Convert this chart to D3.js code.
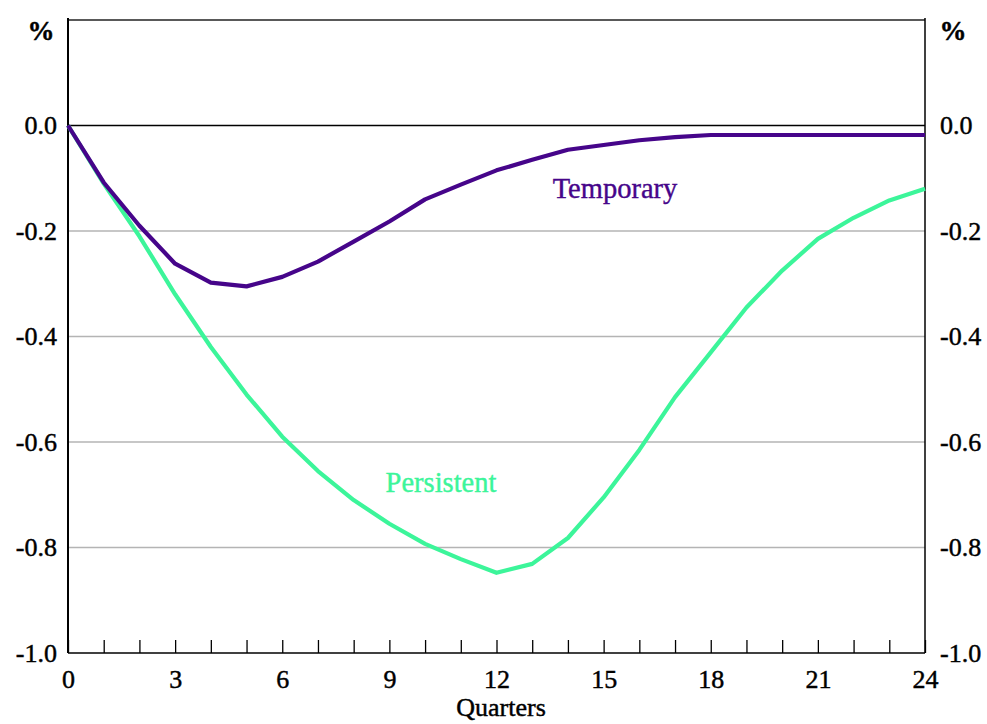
<!DOCTYPE html>
<html><head><meta charset="utf-8">
<script src="https://cdn.jsdelivr.net/npm/d3@7"></script>
<style>body{margin:0;background:#fff}svg{display:block}text{font-family:"Liberation Serif","Times New Roman",serif}</style>
</head><body><svg id="c" width="987" height="724"></svg>
<script>
const quarters = d3.range(0, 25);
const temporary = [0, -0.108, -0.19, -0.262, -0.298, -0.305, -0.287, -0.258, -0.22, -0.182, -0.14, -0.112, -0.085, -0.065, -0.046, -0.037, -0.028, -0.022, -0.018, -0.018, -0.018, -0.018, -0.018, -0.018, -0.018];
const persistent = [0, -0.11, -0.21, -0.32, -0.42, -0.51, -0.59, -0.655, -0.71, -0.755, -0.793, -0.822, -0.848, -0.831, -0.782, -0.705, -0.615, -0.515, -0.43, -0.345, -0.275, -0.215, -0.175, -0.142, -0.12];
const yTicks = [0, -0.2, -0.4, -0.6, -0.8, -1.0];
const xLabels = [0, 3, 6, 9, 12, 15, 18, 21, 24];

const svg = d3.select("#c");
const L = 68, R = 925, T = 20, B = 653;
const x = d3.scaleLinear().domain([0, 24]).range([L, R]);
const y = d3.scaleLinear().domain([-1, 0.2]).range([B, T]);
const fmt = d => d3.format(".1f")(d).replace("\u2212", "-");

svg.append("g").selectAll("line").data([-0.2, -0.4, -0.6, -0.8]).join("line")
  .attr("x1", L).attr("x2", R).attr("y1", d => y(d)).attr("y2", d => y(d))
  .attr("stroke", "#b4b4b4").attr("stroke-width", 1.3);
svg.append("line").attr("x1", L).attr("x2", R).attr("y1", y(0)).attr("y2", y(0)).attr("stroke", "#000").attr("stroke-width", 1.3);
svg.append("line").attr("x1", L).attr("x2", R).attr("y1", T).attr("y2", T).attr("stroke", "#222").attr("stroke-width", 1.3);
svg.append("line").attr("x1", L).attr("x2", L).attr("y1", T - 2).attr("y2", B).attr("stroke", "#000").attr("stroke-width", 2);
svg.append("line").attr("x1", R).attr("x2", R).attr("y1", T - 2).attr("y2", B).attr("stroke", "#000").attr("stroke-width", 1.5);
svg.append("line").attr("x1", L).attr("x2", R).attr("y1", B).attr("y2", B).attr("stroke", "#000").attr("stroke-width", 1.5);

const txt = sel => sel.attr("font-size", 26).attr("fill", "#000").attr("stroke", "#000").attr("stroke-width", 0.45).attr("font-family", "Liberation Serif");

const xAxis = d3.axisBottom(x).tickValues(quarters).tickSize(-13).tickFormat(d => xLabels.includes(d) ? d : "").tickPadding(17);
const gx = svg.append("g").attr("transform", `translate(0,${B})`).call(xAxis);
gx.select(".domain").remove();
gx.selectAll("line").attr("stroke", "#000").attr("stroke-width", 1.3);
gx.selectAll("text").call(txt).attr("dy", "0.68em");

const yl = d3.axisLeft(y).tickValues(yTicks).tickSize(0).tickPadding(11).tickFormat(fmt);
const gyl = svg.append("g").attr("transform", `translate(${L},0)`).call(yl);
gyl.select(".domain").remove();
gyl.selectAll("text").call(txt);
const yr = d3.axisRight(y).tickValues(yTicks).tickSize(0).tickPadding(15).tickFormat(fmt);
const gyr = svg.append("g").attr("transform", `translate(${R},0)`).call(yr);
gyr.select(".domain").remove();
gyr.selectAll("text").call(txt);

svg.append("text").attr("x", 41).attr("y", 40).attr("text-anchor", "middle").call(txt).attr("font-size", 27).attr("font-weight", "bold").text("%");
svg.append("text").attr("x", 953).attr("y", 40).attr("text-anchor", "middle").call(txt).attr("font-size", 27).attr("font-weight", "bold").text("%");
svg.append("text").attr("x", 501).attr("y", 716).attr("text-anchor", "middle").call(txt).attr("font-size", 26).text("Quarters");

const line = d3.line().x((d, i) => x(quarters[i])).y(d => y(d));
svg.append("path").datum(persistent).attr("d", line).attr("fill", "none").attr("stroke", "#3cf59a").attr("stroke-width", 4.2).attr("stroke-linejoin", "round");
svg.append("path").datum(temporary).attr("d", line).attr("fill", "none").attr("stroke", "#46058a").attr("stroke-width", 4.2).attr("stroke-linejoin", "round");

svg.append("text").attr("x", 615).attr("y", 198).attr("text-anchor", "middle").attr("font-size", 28.5).attr("fill", "#46058a").attr("stroke", "#46058a").attr("stroke-width", 0.4).text("Temporary");
svg.append("text").attr("x", 441).attr("y", 492).attr("text-anchor", "middle").attr("font-size", 28.5).attr("fill", "#3cf59a").attr("stroke", "#3cf59a").attr("stroke-width", 0.4).text("Persistent");
</script></body></html>
